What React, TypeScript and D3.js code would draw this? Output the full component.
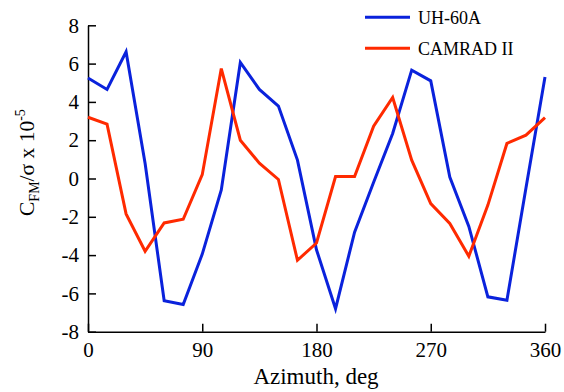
import React, { useEffect, useRef } from "react";
import * as d3 from "d3";

const azimuth = [0, 15, 30, 45, 60, 75, 90, 105, 120, 135, 150, 165, 180, 195, 210, 225, 240, 255, 270, 285, 300, 315, 330, 345, 360];
const uh60a = [5.25, 4.65, 6.62, 0.78, -6.38, -6.58, -3.95, -0.6, 6.06, 4.65, 3.78, 0.96, -3.72, -6.8, -2.8, -0.2, 2.35, 5.66, 5.1, 0.08, -2.5, -6.18, -6.36, -0.5, 5.3];
const camrad = [3.2, 2.84, -1.85, -3.8, -2.32, -2.13, 0.2, 5.74, 2.0, 0.8, -0.05, -4.27, -3.37, 0.1, 0.1, 2.73, 4.23, 0.96, -1.31, -2.35, -4.06, -1.39, 1.83, 2.26, 3.18];
const xTicks = [0, 90, 180, 270, 360];
const yTicks = [-8, -6, -4, -2, 0, 2, 4, 6, 8];
const seriesNames = ["UH-60A", "CAMRAD II"];
const seriesColors = ["#0a22dc", "#ff2a00"];

const FONT = "Liberation Serif, Times New Roman, Times, serif";

export default function App() {
  const ref = useRef<SVGSVGElement>(null);
  useEffect(() => {
    const svg = d3.select(ref.current);
    svg.selectAll("*").remove();
    const x = d3.scaleLinear().domain([0, 360]).range([88, 545]);
    const y = d3.scaleLinear().domain([-8, 8]).range([331.7, 25.3]);

    const xa = svg.append("g").attr("transform", `translate(0,${y(-8)})`)
      .call(d3.axisBottom(x).tickValues(xTicks).tickFormat(d3.format("d")).tickSizeInner(-8).tickSizeOuter(0).tickPadding(10));
    const ya = svg.append("g").attr("transform", `translate(${x(0)},0)`)
      .call(d3.axisLeft(y).tickValues(yTicks).tickFormat(d3.format("d")).tickSizeInner(-8).tickSizeOuter(0).tickPadding(9));
    [xa, ya].forEach((g) => {
      g.attr("font-family", null).attr("font-size", null);
      g.select(".domain").attr("stroke", "#000").attr("stroke-width", 1.5);
      g.selectAll(".tick line").attr("stroke", "#000").attr("stroke-width", 1.5);
      g.selectAll(".tick text").style("font-family", FONT).style("font-size", "21px").attr("fill", "#000");
    });
    ya.selectAll(".tick text").text((d: any) => (d < 0 ? "-" + Math.abs(d) : String(d)));

    const line = d3.line<number>().x((_, i) => x(azimuth[i])).y((d) => y(d));
    [uh60a, camrad].forEach((s, k) => {
      svg.append("path").attr("d", line(s)).attr("fill", "none")
        .attr("stroke", seriesColors[k]).attr("stroke-width", 3).attr("stroke-linejoin", "miter");
    });

    seriesNames.forEach((n, k) => {
      const ly = 17.3 + k * 31;
      svg.append("line").attr("x1", 365).attr("x2", 410).attr("y1", ly).attr("y2", ly)
        .attr("stroke", seriesColors[k]).attr("stroke-width", 3);
      svg.append("text").attr("x", 418).attr("y", ly + 6.5).style("font-family", FONT)
        .style("font-size", "18px").attr("fill", "#000").text(n);
    });

    svg.append("text").attr("x", 316).attr("y", 384).attr("text-anchor", "middle")
      .style("font-family", FONT).style("font-size", "23px").attr("fill", "#000").text("Azimuth, deg");

    const yl = svg.append("text").attr("transform", "translate(34,216) rotate(-90)")
      .style("font-family", FONT).style("font-size", "21.5px").attr("fill", "#000");
    yl.append("tspan").text("C");
    yl.append("tspan").style("font-size", "14px").attr("dy", 5).text("FM");
    yl.append("tspan").attr("dy", -5).text("/σ x 10");
    yl.append("tspan").style("font-size", "14px").attr("dy", -9).text("-5");
  }, []);
  return (
    <svg ref={ref} width={564} height={392} style={{ position: "absolute", left: 0, top: 0 }} />
  );
}
